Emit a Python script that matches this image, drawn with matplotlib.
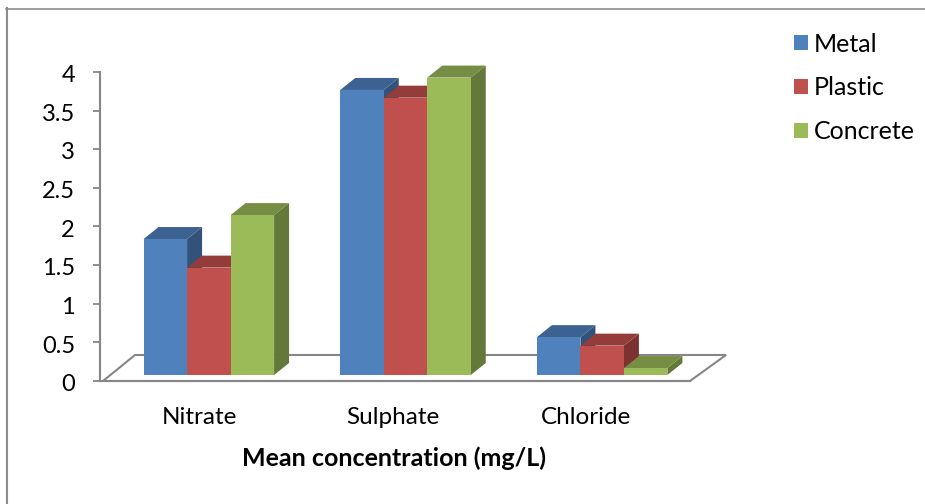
import numpy as np
from matplotlib import pyplot as plt
from matplotlib.patches import Patch
from matplotlib.transforms import ScaledTranslation

categories = ['Nitrate', 'Sulphate', 'Chloride']
series = ['Metal', 'Plastic', 'Concrete']
metal = [1.76, 3.69, 0.49]
plastic = [1.39, 3.59, 0.38]
concrete = [2.07, 3.85, 0.09]
y_ticks = [0, 0.5, 1, 1.5, 2, 2.5, 3, 3.5, 4]
y_labels = ['0', '0.5', '1', '1.5', '2', '2.5', '3', '3.5', '4']

front = ['#4f81bd', '#c0504d', '#9bbb59']
top = ['#3c6291', '#933c3a', '#768e43']
side = ['#32527a', '#7c3230', '#64783a']
grey = '#868686'

W, H = 925, 504
plt.rcParams['font.family'] = ['Lato', 'DejaVu Sans']

fig = plt.figure(figsize=(W / 100, H / 100), dpi=100)

# frame of the chart area, only top and left show
fig.add_artist(plt.Line2D([6 / W, 1], [1 - 8.5 / H] * 2, color='#8c8c8c', lw=1.2))
fig.add_artist(plt.Line2D([7 / W] * 2, [0, 1 - 8 / H], color='#8c8c8c', lw=1.5))

ax = fig.add_axes([100 / W, 1 - 381 / H, 590 / W, 309 / H])
ax.set_xlim(-0.5, 2.5)
ax.set_ylim(0, 4)
ax.patch.set_visible(False)

# pixel sizes turned into data units
px_x = 3 / 590
px_y = 4 / 309
depth_x, depth_y = 15 * px_x, 12 * px_y
lift = 6 * px_y
shift = 10.5 * px_x
width = 43.5 * px_x

# floor
fx = np.array([-0.5 + 3 * px_x, 2.5, 2.5 + 36 * px_x, -0.5 + 35 * px_x])
fy = np.array([0, 0, 26 * px_y, 26 * px_y])
ax.fill(fx, fy, facecolor='white', edgecolor=grey, lw=1.5, clip_on=False, zorder=1)

z = 2
for k, vals in enumerate([metal, plastic, concrete]):
    for i, v in enumerate(vals):
        left = i + shift + (k - 1.5) * width
        right = left + width
        y0 = lift
        y1 = lift + v
        ax.fill([right, right + depth_x, right + depth_x, right],
                [y0, y0 + depth_y, y1 + depth_y, y1], color=side[k], lw=0, zorder=z, clip_on=False)
        ax.fill([left, left + depth_x, right + depth_x, right],
                [y1, y1 + depth_y, y1 + depth_y, y1], color=top[k], lw=0, zorder=z + 1, clip_on=False)
        ax.bar(left, v, width=width, bottom=y0, align='edge', color=front[k], zorder=z + 2, clip_on=False)
    z += 3

for s in ['top', 'right']:
    ax.spines[s].set_visible(False)
for s in ['left', 'bottom']:
    ax.spines[s].set_color(grey)
    ax.spines[s].set_linewidth(1.5)
    ax.spines[s].set_zorder(1)

ax.set_yticks(y_ticks)
ax.set_yticklabels(y_labels, fontsize=17, color='black', va='center_baseline')
ax.set_xticks([0.005, 0.99, 1.97])
ax.set_xticklabels(categories, fontsize=17.5)
ax.tick_params(axis='y', color=grey, width=1.3, length=5, pad=13)
ax.tick_params(axis='x', length=0, pad=19)
ax.set_xlabel('Mean concentration (mg/L)', fontsize=18, fontweight='bold')
ax.xaxis.set_label_coords(294 / 590, -65 / 309)

# tick numbers sit a little under their marks
nudge = ScaledTranslation(0, -1.2 / 72, fig.dpi_scale_trans)
for lab in ax.get_yticklabels():
    lab.set_transform(lab.get_transform() + nudge)

handles = [Patch(facecolor=c, label=s) for c, s in zip(front, series)]
fig.legend(handles=handles, loc='upper left', bbox_to_anchor=(786 / W, 1 - 25 / H),
           frameon=False, fontsize=18, handlelength=0.56, handleheight=0.56,
           handletextpad=0.26, labelspacing=0.83, borderpad=0.3, borderaxespad=0)

fig.savefig('out.png', dpi=100)
